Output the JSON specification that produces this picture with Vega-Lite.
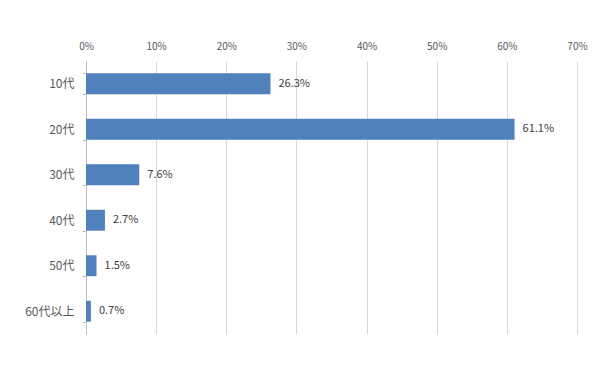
{
  "$schema": "https://vega.github.io/schema/vega-lite/v6.json",
  "autosize": {"type": "none"},
  "width": 491,
  "height": 273,
  "padding": {"left": 86, "top": 61, "right": 20, "bottom": 49},
  "background": "#ffffff",
  "config": {
    "view": {"stroke": null},
    "font": "Noto Sans CJK JP",
    "axis": {"labelFont": "Noto Sans CJK JP", "labelColor": "#595959", "labelFontSize": 11}
  },
  "data": {
    "values": [
      {"age": "10代", "share": 0.263},
      {"age": "20代", "share": 0.611},
      {"age": "30代", "share": 0.076},
      {"age": "40代", "share": 0.027},
      {"age": "50代", "share": 0.015},
      {"age": "60代以上", "share": 0.007}
    ]
  },
  "encoding": {
    "y": {
      "field": "age", "type": "nominal", "sort": null, "title": null,
      "scale": {"paddingInner": 0.54, "paddingOuter": 0.27},
      "axis": {"domainColor": "#bfbfbf", "tickColor": "#bfbfbf", "tickBand": "extent", "tickSize": 4, "labelPadding": 8, "labelFontSize": 12}
    },
    "x": {
      "field": "share", "type": "quantitative", "title": null,
      "scale": {"domain": [0, 0.7], "nice": false},
      "axis": {"orient": "top", "format": ".0%", "values": [0,0.1,0.2,0.3,0.4,0.5,0.6,0.7], "labelOverlap": false, "labelFlush": false, "domain": false, "ticks": false, "grid": true, "gridColor": "#d9d9d9", "labelPadding": 10, "labelFontSize": 10}
    }
  },
  "layer": [
    {"mark": {"type": "bar", "color": "#4f81bd"}},
    {"mark": {"type": "text", "align": "left", "dx": 8, "fontSize": 11, "color": "#404040"},
     "encoding": {"text": {"field": "share", "type": "quantitative", "format": ".1%"}}}
  ]
}
